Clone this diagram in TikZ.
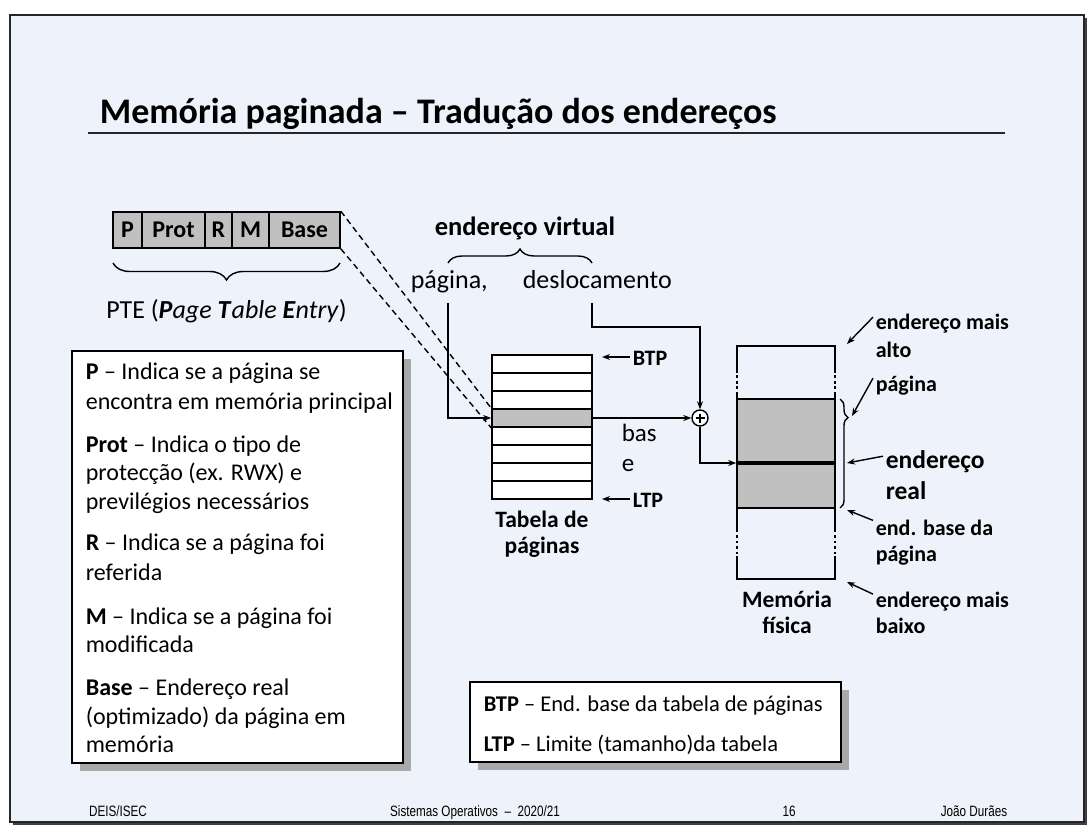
\documentclass[tikz,border=0pt]{standalone}
\usepackage{fontspec}
\setmainfont{Carlito}
\newfontfamily\footfont[FakeStretch=0.78]{Liberation Sans}
\usetikzlibrary{decorations.pathreplacing,arrows.meta,calc}
\definecolor{slidebg}{HTML}{EEF2FA}
\definecolor{cellgray}{HTML}{C0C0C0}
\definecolor{shadowgray}{HTML}{A9A9A9}
\newcommand\setfs[1]{\fontsize{#1}{#1}\selectfont}
\begin{document}
\begin{tikzpicture}[x=1pt,y=-1pt,
  line width=1.6pt,
  txt/.style={inner sep=0pt, anchor=base west},
  ctxt/.style={inner sep=0pt, anchor=base},
  cell/.style={draw, fill=cellgray, inner sep=0pt, minimum height=36pt, font=\setfs{24}\bfseries},
  row/.style={draw, fill=white, inner sep=0pt, minimum width=100pt, minimum height=18pt},
  arr/.style={-{Stealth[length=8pt,width=6pt]}, line width=1.4pt},
  dsh/.style={dash pattern=on 6pt off 4pt, line width=1.4pt},
  brc/.style={decorate, line width=1.4pt},
  legend/.style={draw, fill=white, line width=1.6pt, inner sep=0pt},
  lbl/.style={inner sep=0pt, anchor=base west, font=\setfs{22}\bfseries}
]
\useasboundingbox (0,0) rectangle (1092,834);
\fill[white] (0,0) rectangle (1092,834);

% slide frame with its shadow
\fill[black!75] (13,18) rectangle (1087,825);
\fill[slidebg] (10,15) rectangle (1084,822);
\draw[line width=1.8pt, black!85] (10,15) rectangle (1084,822);

% title
\node[txt, font=\setfs{36}\bfseries] (title) at (99,124) {Memória paginada – Tradução dos endereços};
\draw[line width=2.4pt, black!85] (88,133) -- (1005,133);

% page table entry
\node[cell, minimum width=29pt] (cP) at (127.5,230) {P};
\node[cell, minimum width=63pt] (cProt) at (173.5,230) {Prot};
\node[cell, minimum width=27pt] (cR) at (218.5,230) {R};
\node[cell, minimum width=37pt] (cM) at (250.5,230) {M};
\node[cell, minimum width=71pt] (cBase) at (304.5,230) {Base};
\draw[brc, decoration={brace, amplitude=17pt}] (340,263) -- (113,263);
\node[ctxt, font=\setfs{26}] (pte) at (226.5,319)
  {PTE (\textbf{\textit{P}}\textit{age }\textbf{\textit{T}}\textit{able }\textbf{\textit{E}}\textit{ntry})};

% virtual address
\node[ctxt, font=\setfs{26.5}\bfseries] (va) at (525,236) {endereço virtual};
\draw[brc, decoration={brace, amplitude=14pt}] (448,263) -- (592,263);
\node[txt, font=\setfs{26}] (pag) at (410,288) {página,};
\node[txt, font=\setfs{26}] (desl) at (522,288) {deslocamento};
\coordinate (pagout) at (448,303);
\coordinate (deslout) at (592,303);

% page table
\foreach \i in {0,...,7} {
  \node[row] (r\i) at (542,{364+18*\i}) {};
}
\node[row, fill=cellgray] (r3) at (542,418) {};
\node[ctxt, font=\setfs{23.5}\bfseries] (tab1) at (542,527) {Tabela de};
\node[ctxt, font=\setfs{23.5}\bfseries] (tab2) at (542,553) {páginas};
\node[txt, font=\setfs{22}\bfseries] (btp) at (632,365) {BTP};
\node[txt, font=\setfs{22}\bfseries] (ltp) at (632,507) {LTP};
\draw[arr] (btp.west |- 0,357) ++(-2,0) -- (602,357);
\draw[arr] (ltp.west |- 0,499) ++(-2,0) -- (602,499);

% PTE is the selected table row
\draw[dsh] (cBase.north east) -- (r3.north west);
\draw[dsh] (cBase.south east) -- (r3.south west);

% address arithmetic
\node[circle, draw, fill=white, minimum size=16pt, inner sep=0pt, line width=1.4pt] (add) at (700,418) {};
\draw[line width=1.3pt] ($(add.center)+(-4.5,0)$) -- ($(add.center)+(4.5,0)$)
                        ($(add.center)+(0,-4.5)$) -- ($(add.center)+(0,4.5)$);
\draw[arr] (pagout) |- (r3.west);
\draw[arr] (deslout) -- ++(0,24) -| (add.north);
\draw[arr] (r3.east) -- (add.west);
\node[txt, font=\setfs{25}] (bas1) at (621,441) {bas};
\node[txt, font=\setfs{25}] (bas2) at (621,471) {e};

% physical memory
\node[inner sep=0pt, minimum width=98pt, minimum height=233pt] (mem) at (786,462.5) {};
\fill[cellgray] (737,399) rectangle (835,508);
\draw (737,399) -- (835,399) (737,508) -- (835,508);
\draw (737,373) |- (835,346) -- (835,373);
\draw (737,392) -- (737,532) (835,392) -- (835,532);
\draw (737,556) |- (835,579) -- (835,556);
\foreach \y in {375,380.5,386} {
  \draw[line width=1.6pt] (737,\y) -- ++(0,3) (835,\y) -- ++(0,3);
}
\foreach \y in {535,540.5,546,551.5} {
  \draw[line width=1.6pt] (737,\y) -- ++(0,2.5) (835,\y) -- ++(0,2.5);
}
\draw[line width=4pt] (737,463) -- (835,463);
\coordinate (realin) at (mem.west |- 0,463);
\draw[arr] (add.south) |- (realin);
\draw[brc, decoration={brace, amplitude=8pt, aspect=0.17}] (840,399) -- (840,508);
\node[ctxt, font=\setfs{23.5}\bfseries] (mem1) at (787,607) {Memória};
\node[ctxt, font=\setfs{23.5}\bfseries] (mem2) at (787,633) {física};

% memory annotations
\node[lbl] (hi1) at (875,330) {endereço mais};
\node[lbl] (hi2) at (875,357) {alto};
\node[lbl] (pg1) at (875,391) {página};
\node[txt, font=\setfs{25.5}\bfseries] (re1) at (885,468) {endereço};
\node[txt, font=\setfs{25.5}\bfseries] (re2) at (885,499) {real};
\node[lbl] (eb1) at (875,535) {end. base da};
\node[lbl] (eb2) at (875,561) {página};
\node[lbl] (lo1) at (875,607) {endereço mais};
\node[lbl] (lo2) at (875,633) {baixo};
\coordinate (hitip) at (847,344);
\coordinate (pgtip) at (852,416);
\coordinate (retip) at (847,463);
\coordinate (ebtip) at (847,510);
\coordinate (lotip) at (847,582);
\draw[arr] ($(hi1.west)+(-2,-7)$) -- (hitip);
\draw[arr] ($(pg1.west)+(-2,-7)$) -- (pgtip);
\draw[arr] ($(re1.west)+(-2,-5)$) -- (retip);
\draw[arr] ($(eb1.west)+(-2,-7)$) -- (ebtip);
\draw[arr] ($(lo1.west)+(-2,-7)$) -- (lotip);

% legend of the PTE fields
\fill[shadowgray] (80,359) rectangle (411,771);
\node[legend, minimum width=331pt, minimum height=412pt] (legendbox) at (237.5,557) {};
\begin{scope}[every node/.style={txt, font=\setfs{24}}]
\node (l1) at (85,379) {\textbf{P} – Indica se a página se};
\node (l2) at (85,409) {encontra em memória principal};
\node (l3) at (85,452) {\textbf{Prot} – Indica o tipo de};
\node (l4) at (85,480) {protecção (ex. RWX) e};
\node (l5) at (85,509) {previlégios necessários};
\node (l6) at (85,550) {\textbf{R} – Indica se a página foi};
\node (l7) at (85,580) {referida};
\node (l8) at (85,624) {\textbf{M} – Indica se a página foi};
\node (l9) at (85,652) {modificada};
\node (l10) at (85,695) {\textbf{Base} – Endereço real};
\node (l11) at (85,724) {(optimizado) da página em};
\node (l12) at (85,752) {memória};
\end{scope}

% legend of the registers
\fill[shadowgray] (478,690) rectangle (849,770);
\node[legend, minimum width=371pt, minimum height=80pt] (regbox) at (655.5,722) {};
\node[txt, font=\setfs{22.5}] (b1) at (483,711) {\textbf{BTP} – End. base da tabela de páginas};
\node[txt, font=\setfs{22.5}] (b2) at (483,751) {\textbf{LTP} – Limite (tamanho)da tabela};

% footer
\begin{scope}[every node/.style={inner sep=0pt, anchor=base, font=\footfont\setfs{15}}]
\node (f1) at (118,816) {DEIS/ISEC};
\node (f2) at (475,816) {Sistemas Operativos \ – \ 2020/21};
\node (f3) at (789,816) {16};
\node (f4) at (974,816) {João Durães};
\end{scope}
\end{tikzpicture}
\end{document}
